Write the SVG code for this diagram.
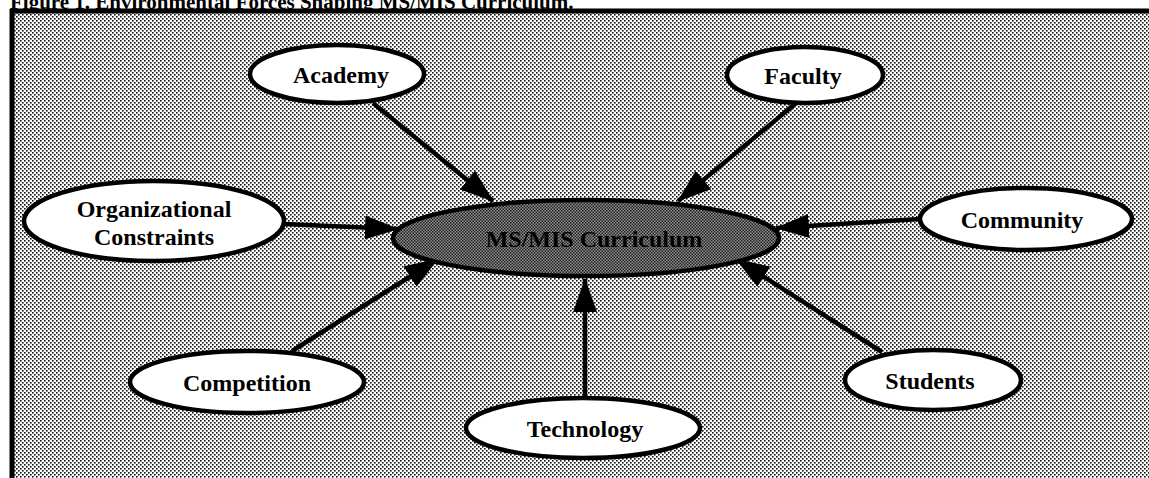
<svg xmlns="http://www.w3.org/2000/svg" width="1149" height="478" viewBox="0 0 1149 478">
  <defs>
    <!-- halftone screen for the panel background -->
    <pattern id="screen" width="4" height="4" patternUnits="userSpaceOnUse">
      <rect width="4" height="4" fill="#ffffff"/>
      <rect x="0" y="0" width="1.6" height="1.6" fill="#111"/>
      <rect x="2" y="2" width="1.6" height="1.6" fill="#111"/>
    </pattern>
    <!-- denser screen for the central ellipse -->
    <pattern id="screenDark" width="3" height="3" patternUnits="userSpaceOnUse">
      <rect width="3" height="3" fill="#8e8e8e"/>
      <rect x="0" y="0" width="1.5" height="1.5" fill="#222"/>
      <rect x="1.5" y="1.5" width="1.5" height="1.5" fill="#222"/>
    </pattern>
    <marker id="head" viewBox="0 0 34 24" refX="33" refY="12" markerWidth="34" markerHeight="24" markerUnits="userSpaceOnUse" orient="auto">
      <path d="M0,0 L34,12 L0,24 Z" fill="#000"/>
    </marker>
    <style>
      .node ellipse { fill: #ffffff; stroke: #000; stroke-width: 4.5; }
      .label { font-family: "Liberation Serif", "Times New Roman", serif; font-weight: bold; font-size: 24px; fill: #000; text-anchor: middle; }
      .conn line { stroke: #000; stroke-width: 4.5; marker-end: url(#head); }
    </style>
  </defs>

  <rect width="1149" height="478" fill="#ffffff"/>

  <!-- caption, running into the top of the page -->
  <text x="10" y="9" font-family="'Liberation Serif', 'Times New Roman', serif" font-weight="bold" font-size="21" fill="#000">Figure 1.  Environmental Forces Shaping MS/MIS Curriculum.</text>

  <!-- framed panel -->
  <rect x="12" y="11" width="1137" height="467" fill="url(#screen)"/>
  <line x1="10" y1="11" x2="1149" y2="11" stroke="#000" stroke-width="5"/>
  <line x1="12" y1="9" x2="12" y2="478" stroke="#000" stroke-width="5"/>

  <g id="connectors" class="conn">
    <line x1="373" y1="103" x2="493" y2="201"/>
    <line x1="795" y1="104" x2="678" y2="201"/>
    <line x1="284" y1="224" x2="398" y2="229"/>
    <line x1="920" y1="219" x2="776" y2="228"/>
    <line x1="292" y1="351" x2="438" y2="259"/>
    <line x1="585" y1="398" x2="585" y2="279"/>
    <line x1="882" y1="352" x2="736" y2="259"/>
  </g>

  <g id="curriculum">
    <ellipse cx="586" cy="238" rx="193" ry="38" fill="url(#screenDark)" stroke="#000" stroke-width="4.5"/>
    <text class="label" x="594" y="247" font-size="25" fill="#222">MS/MIS Curriculum</text>
  </g>

  <g id="academy" class="node">
    <ellipse cx="337" cy="74" rx="87" ry="29"/>
    <text class="label" x="341" y="83">Academy</text>
  </g>

  <g id="faculty" class="node">
    <ellipse cx="805" cy="75" rx="78" ry="28"/>
    <text class="label" x="803" y="84">Faculty</text>
  </g>

  <g id="organizational-constraints" class="node">
    <ellipse cx="154" cy="221" rx="130" ry="40"/>
    <text class="label" x="154" y="217">Organizational</text>
    <text class="label" x="154" y="245">Constraints</text>
  </g>

  <g id="community" class="node">
    <ellipse cx="1026" cy="219" rx="106" ry="31"/>
    <text class="label" x="1022" y="228">Community</text>
  </g>

  <g id="competition" class="node">
    <ellipse cx="247" cy="382" rx="117" ry="31"/>
    <text class="label" x="247" y="391">Competition</text>
  </g>

  <g id="technology" class="node">
    <ellipse cx="583" cy="428" rx="117" ry="30"/>
    <text class="label" x="585" y="437">Technology</text>
  </g>

  <g id="students" class="node">
    <ellipse cx="933" cy="380" rx="88" ry="30"/>
    <text class="label" x="930" y="389">Students</text>
  </g>
</svg>
